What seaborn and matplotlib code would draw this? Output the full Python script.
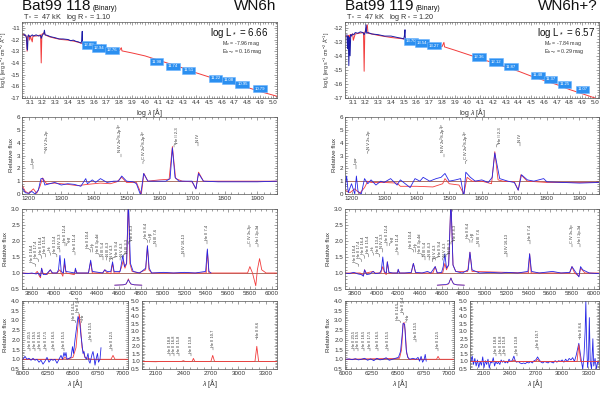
"""
Spectral fits of Bat99 118 and Bat99 119 (SED + normalized line spectra).
"""

import matplotlib
matplotlib.use("Agg")
import matplotlib.pyplot as plt
from matplotlib.ticker import AutoMinorLocator, FormatStrFormatter
import seaborn as sns
import numpy as np

sns.set_style("ticks")
plt.rcParams['font.family'] = ['Liberation Sans', 'DejaVu Sans']
plt.rcParams['mathtext.fontset'] = 'custom'
plt.rcParams['mathtext.rm'] = 'Liberation Sans'
plt.rcParams['mathtext.it'] = 'Liberation Sans:italic'

RED = '#f23c3c'
BLUE = '#2626e6'
CONT = '#8c3b2a'
BOX = '#2b8ff0'
INK = '#333333'

# ---------------- SED (log lambda / log flux) ----------------
sed_mod_lw_118 = [3.045, 3.06, 3.07, 3.075, 3.08, 3.085, 3.095, 3.1, 3.105, 3.12,
                  3.125, 3.15, 3.17, 3.185, 3.19, 3.195, 3.215, 3.22, 3.25, 3.3,
                  3.35, 3.4, 3.45, 3.5, 3.55, 3.6, 3.65, 3.66, 3.665, 3.7,
                  3.8, 3.815, 3.82, 3.9, 4.0, 4.1, 4.2, 4.3, 4.4, 4.5,
                  4.6, 4.7, 4.8, 4.9, 5.03]
sed_mod_lf_118 = [-11.55, -11.6, -11.7, -11.85, -13.0, -11.7, -11.65, -12.05, -11.7, -12.2,
                  -11.7, -11.7, -11.65, -11.6, -14.0, -11.55, -11.4, -11.6, -11.75, -11.9,
                  -12.0, -12.05, -12.15, -12.3, -12.45, -12.6, -12.7, -12.45, -12.7, -12.8,
                  -12.95, -12.7, -12.97, -13.15, -13.4, -13.75, -14.1, -14.45, -14.85, -15.2,
                  -15.5, -15.8, -16.1, -16.45, -16.85]
sed_obs_lw_118 = [3.055, 3.06, 3.065, 3.07, 3.075, 3.08, 3.083, 3.087, 3.09, 3.1,
                  3.11, 3.12, 3.13, 3.15, 3.17, 3.185, 3.19, 3.2, 3.21, 3.215,
                  3.22, 3.24, 3.26, 3.3, 3.33, 3.36, 3.4, 3.42, 3.44, 3.46,
                  3.48, 3.5, 3.505, 3.51, 3.513, 3.52]
sed_obs_lf_118 = [-11.55, -11.65, -11.6, -11.65, -11.9, -12.8, -12.9, -11.8, -11.6, -11.75,
                  -11.7, -11.6, -11.7, -11.6, -11.7, -11.65, -11.9, -11.6, -11.5, -11.2,
                  -11.6, -11.65, -11.75, -11.85, -11.95, -11.95, -12.0, -12.1, -12.05, -12.15,
                  -12.2, -12.3, -12.15, -11.3, -12.4, -12.35]

sed_mod_lw_119 = [3.045, 3.06, 3.07, 3.075, 3.08, 3.09, 3.1, 3.105, 3.12, 3.15,
                  3.185, 3.19, 3.195, 3.215, 3.22, 3.25, 3.3, 3.4, 3.5, 3.6,
                  3.7, 3.8, 3.815, 3.82, 3.9, 4.0, 4.1, 4.2, 4.3, 4.4,
                  4.5, 4.6, 4.7, 4.8, 4.9, 5.03]
sed_mod_lf_119 = [-12.6, -12.6, -12.55, -12.9, -12.5, -12.5, -12.45, -12.9, -12.45, -12.4,
                  -12.35, -15.1, -12.35, -11.8, -12.4, -12.45, -12.55, -12.7, -12.8, -12.95,
                  -13.15, -13.35, -13.05, -13.37, -13.6, -13.9, -14.2, -14.5, -14.8, -15.1,
                  -15.45, -15.75, -16.05, -16.4, -16.7, -17.1]
sed_obs_lw_119 = [3.055, 3.06, 3.065, 3.07, 3.075, 3.08, 3.085, 3.09, 3.1, 3.11,
                  3.12, 3.14, 3.16, 3.18, 3.19, 3.2, 3.205, 3.21, 3.22, 3.25,
                  3.3, 3.35, 3.4, 3.45, 3.48, 3.5, 3.505, 3.51, 3.513, 3.52]
sed_obs_lf_119 = [-12.5, -13.5, -12.6, -14.7, -12.7, -14.0, -12.5, -12.6, -12.45, -12.5,
                  -12.35, -12.4, -12.3, -12.35, -12.5, -12.3, -11.8, -12.4, -12.35, -12.45,
                  -12.5, -12.6, -12.6, -12.7, -12.75, -12.8, -12.6, -12.15, -12.9, -12.85]

# photometry (U B V J H K IRAC)
phot_lw = [3.56, 3.64, 3.74, 4.09, 4.22, 4.34, 4.55, 4.65, 4.76, 4.90]
phot_lf_118 = [-12.47, -12.73, -12.93, -13.89, -14.29, -14.63, -15.31, -15.5, -15.84, -16.21]
phot_mag_118 = ["12.88", "12.94", "12.76", "11.98", "11.74", "11.51", "11.22", "11.08", "10.95", "10.79"]
phot_lf_119 = [-12.97, -13.08, -13.27, -14.08, -14.45, -14.78, -15.4, -15.68, -16.03, -16.39]
phot_mag_119 = ["13.70", "13.54", "13.27", "12.36", "12.12", "11.87", "11.48", "11.37", "11.25", "11.07"]

# ---------------- UV spectrum ----------------
uv_mod_w_118 = [1180, 1190, 1200, 1215, 1225, 1235, 1243, 1255, 1280, 1320,
                1350, 1380, 1420, 1450, 1470, 1485, 1500, 1530, 1545, 1553,
                1565, 1600, 1630, 1640, 1650, 1670, 1700, 1712, 1720, 1735,
                1800, 1960]
uv_mod_f_118 = [0.7, 0.2, 0.05, 0.4, 0.05, 0.6, 1.25, 0.8, 0.85, 0.75,
                0.65, 0.75, 0.85, 0.8, 0.95, 1.3, 0.9, 0.9, 0.0, 1.6,
                1.0, 1.1, 1.15, 3.7, 1.2, 1.0, 0.95, 0.4, 1.7, 1.0,
                1.0, 1.0]
uv_obs_w_118 = [1180, 1190, 1200, 1210, 1220, 1230, 1238, 1244, 1250, 1265,
                1280, 1300, 1320, 1340, 1360, 1375, 1380, 1395, 1405, 1420,
                1440, 1460, 1475, 1485, 1500, 1520, 1530, 1543, 1552, 1565,
                1590, 1620, 1633, 1640, 1648, 1660, 1700, 1712, 1720, 1735,
                1780, 1850, 1900, 1960]
uv_obs_f_118 = [0.5, 0.1, 0.05, 0.2, 0.0, 0.3, 1.2, 1.2, 0.7, 0.8,
                0.9, 0.7, 0.8, 0.75, 0.6, 1.2, 0.8, 1.1, 0.9, 1.2,
                0.9, 1.0, 1.0, 1.4, 1.0, 0.95, 0.8, -0.1, 1.6, 1.0,
                1.0, 1.0, 1.2, 3.6, 1.3, 1.0, 1.0, 0.4, 1.6, 1.0,
                0.95, 0.95, 0.95, 1.0]

uv_mod_w_119 = [1180, 1195, 1210, 1225, 1240, 1250, 1260, 1300, 1340, 1350,
                1400, 1450, 1480, 1487, 1500, 1530, 1545, 1555, 1570, 1600,
                1630, 1640, 1650, 1665, 1700, 1712, 1720, 1740, 1800, 1960]
uv_mod_f_119 = [0.3, 0.1, 0.4, 0.05, 0.5, 1.0, 0.9, 0.9, 0.85, 0.6,
                0.6, 0.55, 0.8, 1.2, 0.8, 0.7, 0.0, 1.3, 1.0, 1.0,
                0.8, 3.3, 1.1, 1.0, 0.95, 0.3, 1.5, 1.0, 0.9, 0.9]
uv_obs_w_119 = [1180, 1185, 1190, 1200, 1210, 1215, 1220, 1230, 1240, 1250,
                1260, 1275, 1290, 1300, 1320, 1340, 1350, 1365, 1380, 1395,
                1410, 1420, 1440, 1460, 1475, 1487, 1500, 1520, 1535, 1545,
                1551, 1565, 1580, 1600, 1620, 1632, 1640, 1655, 1680, 1700,
                1712, 1722, 1740, 1760, 1790, 1800, 1850, 1900, 1960]
uv_obs_f_119 = [0.4, 1.4, 0.1, 0.8, 0.0, 1.4, 0.2, 0.0, 1.2, 0.8,
                1.1, 0.7, 1.0, 0.9, 1.2, 0.7, 1.1, 0.8, 0.5, 1.2,
                1.0, 1.3, 1.0, 1.2, 1.3, 1.6, 1.0, 1.1, 1.2, -0.2,
                1.7, 1.3, 1.0, 1.1, 0.9, 1.3, 3.2, 1.2, 1.0, 0.9,
                0.3, 1.5, 1.1, 1.0, 1.2, 0.95, 0.9, 0.85, 0.9]

# ---------------- optical spectrum ----------------
opt_mod_w_118 = [3710, 3830, 3850, 3870, 3880, 3890, 3900, 3940, 3970, 3985,
                 4030, 4045, 4058, 4070, 4085, 4100, 4115, 4190, 4200, 4215,
                 4320, 4340, 4355, 4450, 4470, 4485, 4525, 4541, 4555, 4600,
                 4620, 4640, 4655, 4670, 4686, 4700, 4720, 4780, 4845, 4861,
                 4875, 4900, 5400, 5411, 5425, 5780, 5801, 5825, 5855, 5870,
                 5890, 5910, 5950, 6050]
opt_mod_f_118 = [1.0, 0.98, 1.05, 0.9, 0.85, 1.15, 1.0, 0.95, 1.1, 1.0,
                 1.0, 1.05, 1.1, 1.0, 0.9, 1.3, 1.0, 0.95, 1.12, 1.0,
                 1.0, 1.35, 1.0, 1.0, 1.1, 1.02, 0.98, 1.3, 1.0, 1.0,
                 1.15, 1.4, 1.15, 1.3, 3.3, 1.3, 1.05, 1.0, 1.1, 1.85,
                 1.1, 1.0, 1.0, 1.7, 1.0, 1.0, 1.2, 1.0, 0.6, 1.1,
                 1.45, 1.1, 1.0, 1.0]
opt_obs_w_118 = [3710, 3760, 3800, 3840, 3860, 3880, 3890, 3905, 3930, 3970,
                 3990, 4030, 4045, 4058, 4070, 4090, 4100, 4112, 4195, 4200,
                 4210, 4320, 4340, 4355, 4450, 4470, 4490, 4525, 4541, 4555,
                 4610, 4635, 4650, 4670, 4686, 4705, 4730, 4790, 4845, 4861,
                 4877, 4900, 5010, 5100, 5200, 5300, 5395, 5411, 5425, 5445]
opt_obs_f_118 = [1.0, 0.98, 1.0, 0.97, 1.0, 0.9, 1.15, 0.95, 0.95, 1.1,
                 1.0, 1.0, 1.1, 1.55, 1.05, 1.0, 1.45, 1.05, 1.0, 1.15,
                 1.0, 1.0, 1.4, 1.05, 1.0, 1.1, 1.05, 1.05, 1.35, 1.05,
                 1.05, 1.55, 1.2, 1.3, 3.3, 1.3, 1.05, 1.0, 1.15, 1.85,
                 1.15, 1.0, 1.02, 1.0, 1.02, 1.0, 1.05, 1.75, 1.05, 1.0]

opt_mod_w_119 = [3710, 3850, 3880, 3890, 3905, 3970, 3985, 4040, 4058, 4075,
                 4090, 4100, 4115, 4190, 4200, 4215, 4320, 4340, 4360, 4520,
                 4541, 4560, 4610, 4630, 4645, 4665, 4686, 4705, 4730, 4840,
                 4861, 4880, 5400, 5411, 5425, 5780, 5801, 5825, 5865, 5880,
                 5895, 5920, 6050]
opt_mod_f_119 = [1.0, 1.0, 0.92, 1.1, 1.0, 1.05, 1.0, 1.0, 1.2, 1.0,
                 0.95, 1.35, 1.0, 1.0, 1.1, 1.0, 1.0, 1.3, 1.0, 1.0,
                 1.2, 1.0, 1.0, 1.3, 1.1, 1.25, 3.3, 1.25, 1.05, 1.05,
                 1.65, 1.05, 1.0, 1.6, 1.0, 1.0, 1.2, 1.0, 0.9, 1.15,
                 1.1, 1.0, 1.0]
opt_obs_w_119 = [3710, 3750, 3790, 3830, 3860, 3880, 3890, 3910, 3940, 3970,
                 3990, 4030, 4045, 4058, 4072, 4090, 4100, 4115, 4150, 4195,
                 4200, 4210, 4260, 4320, 4340, 4360, 4420, 4470, 4500, 4541,
                 4560, 4600, 4615, 4630, 4645, 4665, 4686, 4705, 4730, 4790,
                 4845, 4861, 4880, 4950, 5050, 5150, 5200, 5300, 5395, 5411,
                 5428, 5500, 5620, 5700, 5780, 5801, 5830, 5865, 5880, 5900,
                 5960, 6050]
opt_obs_f_119 = [1.0, 0.98, 1.02, 0.97, 0.95, 0.9, 1.1, 0.95, 0.97, 1.05,
                 0.98, 1.0, 1.1, 1.5, 1.05, 1.0, 1.35, 1.02, 1.0, 1.0,
                 1.12, 1.0, 1.0, 1.02, 1.3, 1.02, 1.0, 1.05, 1.0, 1.2,
                 1.0, 1.02, 1.2, 1.6, 1.15, 1.25, 3.3, 1.25, 1.05, 1.0,
                 1.1, 1.65, 1.1, 1.0, 1.02, 1.0, 1.02, 1.0, 1.05, 1.6,
                 1.05, 1.0, 1.05, 1.0, 1.02, 1.2, 1.05, 0.88, 1.2, 1.1,
                 1.0, 0.98]

# He II 4686 shown scaled down below the continuum
inset_w = [4560, 4640, 4665, 4675, 4686, 4697, 4710, 4740, 4810]
inset_mod_118 = [0.62, 0.63, 0.65, 0.72, 0.82, 0.72, 0.65, 0.63, 0.62]
inset_obs_118 = [0.62, 0.63, 0.66, 0.72, 0.79, 0.72, 0.66, 0.63, 0.62]
inset_mod_119 = [0.62, 0.63, 0.66, 0.75, 0.85, 0.74, 0.66, 0.63, 0.62]
inset_obs_119 = [0.62, 0.64, 0.67, 0.76, 0.84, 0.75, 0.66, 0.63, 0.62]

# ---------------- H alpha region ----------------
ha_mod_w_118 = [5990, 6400, 6420, 6440, 6500, 6530, 6550, 6563, 6575, 6590,
                6620, 6680, 6880, 6900, 6920, 7050]
ha_mod_f_118 = [1.0, 1.0, 1.1, 1.0, 1.1, 1.6, 2.8, 3.3, 2.7, 1.6,
                1.1, 1.0, 1.0, 1.2, 1.0, 1.0]
ha_obs_w_118 = [6000, 6020, 6040, 6060, 6080, 6100, 6120, 6140, 6160, 6180,
                6200, 6220, 6240, 6260, 6280, 6300, 6320, 6340, 6360, 6380,
                6395, 6410, 6420, 6430, 6440, 6460, 6480, 6495, 6505, 6520,
                6535, 6550, 6565, 6580, 6590, 6600, 6610, 6620, 6635, 6650,
                6660, 6670, 6690, 6700, 6710, 6720, 6735, 6745, 6755, 6770,
                6780]
ha_obs_f_118 = [1.0, 1.15, 1.0, 1.05, 0.95, 1.05, 0.95, 1.0, 0.85, 0.95,
                0.75, 0.9, 1.1, 0.85, 1.0, 0.95, 1.0, 0.8, 1.0, 1.2,
                1.0, 1.35, 1.15, 1.35, 1.0, 1.05, 1.1, 1.65, 1.3, 2.0,
                2.6, 3.2, 3.0, 2.2, 1.8, 1.3, 1.4, 1.1, 1.0, 1.3,
                0.9, 0.8, 1.25, 1.4, 1.1, 0.7, 1.1, 1.3, 0.85, 1.0,
                1.6]

ha_mod_w_119 = [5990, 6520, 6540, 6555, 6565, 6575, 6590, 6610, 6880, 6895, 6910, 7050]
ha_mod_f_119 = [1.0, 1.05, 1.5, 2.8, 2.9, 2.5, 1.3, 1.0, 1.0, 1.15, 1.0, 1.0]
ha_obs_w_119 = [6000, 6030, 6060, 6090, 6120, 6150, 6180, 6210, 6240, 6270,
                6300, 6330, 6360, 6390, 6420, 6450, 6480, 6510, 6530, 6545,
                6555, 6570, 6585, 6600, 6620, 6650, 6680, 6700, 6715, 6730,
                6745, 6760, 6770, 6780]
ha_obs_f_119 = [1.0, 1.02, 0.98, 1.03, 0.97, 1.0, 1.05, 0.95, 1.02, 0.93,
                1.05, 0.97, 1.0, 1.08, 0.95, 1.0, 1.05, 1.1, 1.4, 2.2,
                2.85, 2.8, 1.5, 1.1, 1.0, 1.05, 1.0, 1.1, 0.9, 1.15,
                0.85, 1.0, 1.25, 0.9]

# ---------------- near-IR region ----------------
ir_mod_w_118 = [1960, 2100, 2150, 2380, 2400, 2420, 2495, 2510, 2525, 2700,
                2720, 2740, 3180, 3200, 3220, 3420]
ir_mod_f_118 = [1.0, 0.98, 1.0, 1.0, 1.05, 1.0, 1.0, 1.2, 1.0, 1.0,
                1.4, 1.0, 1.0, 2.0, 1.0, 1.0]
ir_obs_w_118 = []
ir_obs_f_118 = []

ir_mod_w_119 = [1960, 2430, 2450, 2470, 2700, 2720, 2740, 3170, 3190, 3210, 3420]
ir_mod_f_119 = [1.0, 1.0, 1.1, 1.0, 1.0, 1.15, 1.0, 1.0, 2.1, 1.0, 1.0]
ir_obs_w_119 = [1960, 1975, 1990, 2005, 2020, 2035, 2050, 2065, 2080, 2095,
                2110, 2125, 2140, 2155, 2170, 2185, 2200, 2215, 2230, 2245,
                2260, 2275, 2290, 2305, 2320, 2335, 2350, 2365, 2380, 2395,
                2410, 2430, 2450, 2465, 2480, 2500, 2520, 2540, 2560, 2580,
                2600, 2620, 2640, 2660, 2680, 2700, 2720, 2740, 2760, 2780,
                2800, 2820, 2840, 2860, 2880, 2900, 2920, 2940, 2960, 2980,
                3000, 3020, 3040, 3060, 3080, 3100, 3120, 3140, 3160,
                3175, 3190, 3205, 3220, 3235, 3250, 3262, 3270, 3280, 3290,
                3300, 3310, 3320, 3335, 3350, 3360, 3375, 3390, 3405, 3420]
ir_obs_f_119 = [1.0, 1.35, 0.8, 1.2, 0.7, 1.1, 0.6, 1.0, 0.75, 1.3,
                0.6, 1.05, 0.8, 1.15, 0.55, 1.0, 0.9, 1.25, 0.7, 1.0,
                0.85, 0.95, 0.8, 1.1, 0.95, 1.05, 0.9, 1.0, 0.9, 1.15,
                1.0, 1.05, 1.35, 1.05, 0.95, 1.0, 0.9, 0.85, 0.9, 0.85,
                0.95, 0.9, 1.0, 0.9, 1.05, 1.1, 1.3, 1.1, 0.95, 0.9,
                1.0, 0.95, 0.9, 1.0, 0.95, 0.9, 1.05, 0.95, 1.05, 1.0,
                1.1, 0.95, 1.15, 1.0, 1.2, 1.1, 1.25, 1.0, 1.4,
                1.8, 2.2, 1.6, 1.0, 0.5, 1.5, 3.0, 5.0, 2.0, 0.6,
                1.2, 3.9, 1.0, 0.5, 2.5, 0.7, 1.2, 0.5, 1.0, 0.9]

# ---------------- line identifications ----------------
uv_id_w = [1215, 1250, 1483, 1550, 1645, 1718]
uv_id_tx = [1215, 1255, 1483, 1555, 1655, 1718]
uv_id_name = ["Ly$\\alpha$", "N V 2s-2p", "N IV 2s$^3$S-2p$^3$P", "C IV 2s$^2$S-2p$^2$P",
              "He II 2-3", "N IV"]
uv_id_y = [2.2, 3.4, 3.1, 2.6, 3.9, 4.0]

opt_id_w = [3835, 3860, 3890, 3925, 3970, 4030, 4058, 4100, 4120, 4200, 4340, 4358,
            4420, 4450, 4485, 4515, 4541, 4610, 4640, 4686, 4861, 4880, 4940, 5200,
            5411, 5801, 5876]
opt_id_tx = [3800, 3840, 3880, 3920, 3960, 4010, 4055, 4100, 4145, 4200, 4315, 4360,
             4405, 4450, 4495, 4540, 4585, 4630, 4675, 4720, 4845, 4890, 4940, 5200,
             5411, 5801, 5876]
opt_id_name = ["He II 18-4", "He II 17-4", "He II 16-4", "He II 15-4", "H$\\epsilon$",
               "He II 13-4", "N IV 3-3", "He II 12-4", "H$\\delta$", "He II 11-4",
               "He II 10-4", "H$\\gamma$", "He II 3p-4d", "N III 5-4", "N III 4-3",
               "N V 4-3", "He II 9-4", "N V 4-3", "N III 3-3", "He II 4-3",
               "He II 8-4", "H$\\beta$", "N III 7-6", "N IV 16-13", "He II 7-4",
               "C IV 3s-3p", "He I 2p-3d"]
opt_id_y = [1.3, 1.45, 1.55, 1.6, 1.65, 1.6, 1.75, 1.95, 1.95, 1.65, 1.75, 1.75,
            1.6, 1.5, 1.5, 1.45, 1.5, 1.5, 1.6, 2.0, 2.05, 2.05, 1.9, 1.6,
            2.0, 1.9, 1.9]

ha_id_w = [6074, 6118, 6171, 6234, 6311, 6406, 6527, 6560, 6583, 6683, 6890]
ha_id_tx = [6074, 6118, 6171, 6234, 6311, 6406, 6505, 6550, 6595, 6683, 6890]
ha_id_name = ["He II 20-5", "He II 19-5", "He II 18-5", "He II 17-5", "He II 16-5",
              "He II 15-5", "He II 14-5", "He II 6-4", "H$\\alpha$", "He II 13-5",
              "He II 12-5"]
ha_id_y = [1.55, 1.55, 1.55, 1.55, 1.55, 1.55, 3.0, 3.4, 3.0, 2.0, 1.55]

ir_id_w = [2250, 2300, 2350, 2480, 2720, 3200]
ir_id_tx = [2250, 2300, 2350, 2480, 2720, 3210]
ir_id_name = ["He II 18-8", "He II 16-8", "He II 15-8", "He II 13-8", "He II 10-7",
              "He II 8-6"]
ir_id_y = [1.5, 1.5, 1.5, 1.5, 1.9, 2.6]

W, H = 600, 394
fig = plt.figure(figsize=(6, 3.94), dpi=100)
renderer = fig.canvas.get_renderer()


def px_axes(x0, y0, x1, y1):
    return fig.add_axes([x0 / W, 1 - y1 / H, (x1 - x0) / W, (y1 - y0) / H])


def style(ax, xfmt=None, yfmt=None):
    ax.tick_params(which='both', direction='in', top=True, right=True,
                   labelsize=4.5, width=0.4, pad=1.5, color='#555555', labelcolor=INK)
    ax.tick_params(which='major', length=2.2)
    ax.tick_params(which='minor', length=1.1)
    ax.xaxis.set_minor_locator(AutoMinorLocator())
    ax.yaxis.set_minor_locator(AutoMinorLocator())
    if xfmt:
        ax.xaxis.set_major_formatter(FormatStrFormatter(xfmt))
    if yfmt:
        ax.yaxis.set_major_formatter(FormatStrFormatter(yfmt))
    for s in ax.spines.values():
        s.set_linewidth(0.5)
        s.set_color('#555555')


def trace(ax, x, y, color, lw=0.6):
    if len(x) == 0:
        return
    sns.lineplot(x=x, y=y, ax=ax, color=color, lw=lw, sort=False,
                 estimator=None, legend=False)


def mark_lines(ax, xs, txs, names, ys, dy, fs=3.0):
    # rotated identification with a short leader from the line position
    for x, tx, name, y in zip(xs, txs, names, ys):
        ax.text(tx, y + 0.3 * dy, name, rotation=90, fontsize=fs, ha='center',
                va='bottom', color=INK)
        ax.plot([x, x, tx], [y - dy, y - 0.3 * dy, y + 0.2 * dy], lw=0.3, color=INK)


def draw_star(s):
    x0, x1 = s['cols']
    # header
    t = fig.text(x0 / W, 1 - 10.5 / H, s['name'], fontsize=11, color='#111111',
                 va='baseline', ha='left')
    bb = t.get_window_extent(renderer=renderer)
    fig.text((bb.x1 + 2) / W, 1 - 10.5 / H, "(Binary)", fontsize=5, color='#111111',
             va='baseline', ha='left')
    fig.text((x1 - 1) / W, 1 - 10.5 / H, s['sptype'], fontsize=11, color='#111111',
             va='baseline', ha='right')
    fig.text((x0 + 1) / W, 1 - 19 / H, s['params'], fontsize=5.2, color=INK,
             va='baseline', ha='left')

    # row 1: SED
    ax = px_axes(x0, 22, x1, 98)
    trace(ax, s['sed_mod'][0], s['sed_mod'][1], RED, 0.7)
    trace(ax, s['sed_obs'][0], s['sed_obs'][1], '#1c1ca8', 0.7)
    for lw_, lf_, m in zip(phot_lw, s['phot'], s['mags']):
        ax.text(lw_, lf_, m, fontsize=3.1, color='white', ha='center', va='center',
                bbox=dict(boxstyle='square,pad=0.4', fc=BOX, ec='#6ab4ff', lw=0.4))
    ax.set_xlim(3.04, 5.03)
    ax.set_ylim(-17, s['sed_top'])
    ax.set_xticks(np.arange(3.1, 5.01, 0.1))
    ax.set_yticks(np.arange(-17, s['sed_top'], 1.0))
    style(ax, '%.1f', '%d')
    ax.set_xlabel(r"log $\lambda$ [Å]", fontsize=5, labelpad=1, color=INK)
    ax.set_ylabel(r"log f$_\lambda$ [erg s$^{-1}$ cm$^{-2}$ Å$^{-1}$]", fontsize=3.8,
                  labelpad=1, color=INK)
    ax.text(s['lum_x'], 0.855, s['lum'], transform=ax.transAxes, ha='right',
            va='center', fontsize=7, color='#111111')
    ax.text(0.785, 0.72, s['mv'], transform=ax.transAxes, ha='left', va='center',
            fontsize=3.8, color=INK)
    ax.text(0.785, 0.61, s['ebv'], transform=ax.transAxes, ha='left', va='center',
            fontsize=3.8, color=INK)

    # row 2: UV
    ax = px_axes(x0, 117, x1, 194)
    ax.axhline(1.0, color=CONT, lw=0.5)
    trace(ax, s['uv_mod'][0], s['uv_mod'][1], RED)
    trace(ax, s['uv_obs'][0], s['uv_obs'][1], BLUE)
    mark_lines(ax, uv_id_w, uv_id_tx, uv_id_name, uv_id_y, 0.25)
    ax.set_xlim(1180, 1960)
    ax.set_ylim(0, 6)
    ax.set_xticks(np.arange(1200, 1901, 100))
    ax.set_yticks(np.arange(0, 7, 1))
    style(ax, '%d', '%d')
    ax.set_ylabel("Relative flux", fontsize=4.5, labelpad=2, color=INK)

    # row 3: optical
    ax = px_axes(x0, 209, x1, 289)
    ax.axhline(1.0, color=CONT, lw=0.5)
    trace(ax, s['opt_mod'][0], s['opt_mod'][1], RED)
    trace(ax, s['opt_obs'][0], s['opt_obs'][1], BLUE)
    trace(ax, inset_w, s['inset'][0], RED, 0.5)
    trace(ax, inset_w, s['inset'][1], BLUE, 0.5)
    mark_lines(ax, opt_id_w, opt_id_tx, opt_id_name, opt_id_y, 0.1, fs=2.8)
    ax.set_xlim(3710, 6050)
    ax.set_ylim(0.5, 3.0)
    ax.set_xticks(np.arange(3800, 6001, 200))
    ax.set_yticks(np.arange(0.5, 3.01, 0.5))
    style(ax, '%d', '%.1f')
    ax.set_ylabel("Relative flux", fontsize=4.5, labelpad=2, color=INK)

    # row 4a: H alpha
    a0, a1 = s['r4a']
    ax = px_axes(a0, 301, a1, 369)
    ax.axhline(1.0, color=CONT, lw=0.5)
    trace(ax, s['ha_mod'][0], s['ha_mod'][1], RED)
    trace(ax, s['ha_obs'][0], s['ha_obs'][1], BLUE)
    mark_lines(ax, ha_id_w, ha_id_tx, ha_id_name, ha_id_y, 0.12, fs=2.8)
    ax.set_xlim(5990, 7050)
    ax.set_ylim(0.5, 4.0)
    ax.set_xticks([6000, 6250, 6500, 6750, 7000])
    ax.set_yticks(np.arange(0.5, 4.01, 0.5))
    style(ax, '%d', '%.1f')
    ax.set_ylabel("Relative flux", fontsize=4.5, labelpad=2, color=INK)
    ax.set_xlabel(r"$\lambda$ [Å]", fontsize=5, labelpad=1, color=INK)

    # row 4b: near IR
    b0, b1 = s['r4b']
    ax = px_axes(b0, 301, b1, 369)
    ax.axhline(1.0, color=CONT, lw=0.5)
    trace(ax, s['ir_obs'][0], s['ir_obs'][1], BLUE)
    trace(ax, s['ir_mod'][0], s['ir_mod'][1], RED)
    mark_lines(ax, ir_id_w, ir_id_tx, ir_id_name, ir_id_y, 0.15, fs=2.8)
    ax.set_xlim(1950, 3420)
    ax.set_ylim(0.5, 5.0)
    ax.set_xticks(np.arange(2100, 3301, 300))
    ax.set_yticks(np.arange(0.5, 5.01, 0.5))
    style(ax, '%d', '%.1f')
    ax.set_xlabel(r"$\lambda$ [Å]", fontsize=5, labelpad=1, color=INK)


stars = [
    dict(name="Bat99 118", sptype="WN6h", cols=(22, 277), r4a=(22, 128), r4b=(142, 277),
         params=r"T$_*$ =  47 kK   log R$_*$ = 1.10",
         lum=r"log L$_*$ = 6.66", lum_x=0.965,
         mv=r"M$_v$ = -7.96 mag", ebv=r"E$_{b-v}$ = 0.16 mag", sed_top=-10.5,
         sed_mod=(sed_mod_lw_118, sed_mod_lf_118), sed_obs=(sed_obs_lw_118, sed_obs_lf_118),
         phot=phot_lf_118, mags=phot_mag_118,
         uv_mod=(uv_mod_w_118, uv_mod_f_118), uv_obs=(uv_obs_w_118, uv_obs_f_118),
         opt_mod=(opt_mod_w_118, opt_mod_f_118), opt_obs=(opt_obs_w_118, opt_obs_f_118),
         inset=(inset_mod_118, inset_obs_118),
         ha_mod=(ha_mod_w_118, ha_mod_f_118), ha_obs=(ha_obs_w_118, ha_obs_f_118),
         ir_mod=(ir_mod_w_118, ir_mod_f_118), ir_obs=(ir_obs_w_118, ir_obs_f_118)),
    dict(name="Bat99 119", sptype="WN6h+?", cols=(345, 599), r4a=(345, 454), r4b=(470, 599),
         params=r"T$_*$ =  47 kK   log R$_*$ = 1.20",
         lum=r"log L$_*$ = 6.57", lum_x=0.985,
         mv=r"M$_v$ = -7.84 mag", ebv=r"E$_{b-v}$ = 0.29 mag", sed_top=-11.6,
         sed_mod=(sed_mod_lw_119, sed_mod_lf_119), sed_obs=(sed_obs_lw_119, sed_obs_lf_119),
         phot=phot_lf_119, mags=phot_mag_119,
         uv_mod=(uv_mod_w_119, uv_mod_f_119), uv_obs=(uv_obs_w_119, uv_obs_f_119),
         opt_mod=(opt_mod_w_119, opt_mod_f_119), opt_obs=(opt_obs_w_119, opt_obs_f_119),
         inset=(inset_mod_119, inset_obs_119),
         ha_mod=(ha_mod_w_119, ha_mod_f_119), ha_obs=(ha_obs_w_119, ha_obs_f_119),
         ir_mod=(ir_mod_w_119, ir_mod_f_119), ir_obs=(ir_obs_w_119, ir_obs_f_119)),
]

for s in stars:
    draw_star(s)

fig.savefig("out.png", dpi=100)
